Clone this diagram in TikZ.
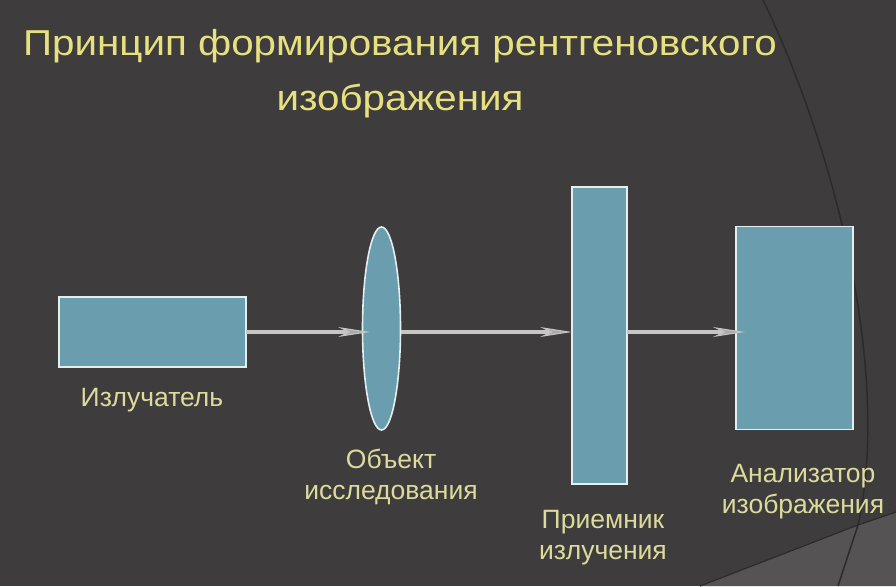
\documentclass[tikz,border=0pt]{standalone}
\usepackage{fontspec}
\setmainfont{Liberation Sans}
\usetikzlibrary{shapes.geometric,arrows.meta}
\definecolor{bg}{HTML}{3E3C3D}
\definecolor{bgl}{HTML}{555354}
\definecolor{arcc}{HTML}{2C2A2B}
\definecolor{boxf}{HTML}{6A9DAD}
\definecolor{boxd}{HTML}{E2EEF0}
\definecolor{ttl}{HTML}{E6E07E}
\definecolor{lbl}{HTML}{DCDB9C}
\definecolor{ray}{HTML}{C6C6C4}
\tikzset{
  box/.style={draw=boxd, line width=1.6pt, fill=boxf, inner sep=0pt, outer sep=0pt, minimum width=#1},
  lbltext/.style={text=lbl, font=\fontsize{26.5}{31}\selectfont, align=center, inner sep=0pt},
  raystyle/.style={draw=ray, line width=3.6pt, -{Stealth[length=32pt,width=10pt,fill=ray!80!bg,line width=1pt]}},
}
\begin{document}
\begin{tikzpicture}[x=1pt,y=-1pt]
\fill[bg] (0,0) rectangle (896,586);
\useasboundingbox (0,0) rectangle (896,586);
% background decoration
\fill[bgl] (700,586) -- (858,525) -- (896,512) -- (896,586) -- cycle;
\draw[arcc, line width=1.5pt] (763,0) .. controls (840,160) and (890,380) .. (858,525) -- (838,586);
\draw[arcc, line width=1.2pt] (700,586) -- (858,525) -- (896,512);
% title
\node[text=ttl, font=\fontsize{36}{55}\selectfont, align=center, inner sep=0pt, xscale=1.12, anchor=center] (title) at (400,74) {Принцип формирования рентгеновского\\изображения};
% components
\node[box=187pt, minimum height=70pt] (emit) at (152.5,332) {};
\node[draw=boxd, line width=1.6pt, fill=boxf, ellipse, inner sep=0pt, minimum width=38pt, minimum height=203pt] (lens) at (381.5,328.5) {};
\node[box=55pt, minimum height=297pt] (recv) at (599.5,335.5) {};
\node[box=117pt, minimum height=203pt] (anal) at (794.5,328) {};
% ray tips
\coordinate (t1) at (370,332);
\coordinate (t2) at (572,332);
\coordinate (t3) at (745,332);
\draw[raystyle] (emit.east) -- (t1);
\draw[raystyle] (lens.east |- t1) -- (t2);
\draw[raystyle] (recv.east |- t1) -- (t3);
% labels
\node[lbltext] (l1) at (152,400) {Излучатель};
\node[lbltext] (l2) at (391,477) {Объект\\исследования};
\node[lbltext] (l3) at (603,538) {Приемник\\излучения};
\node[lbltext] (l4) at (803,492) {Анализатор\\изображения};
\end{tikzpicture}
\end{document}
